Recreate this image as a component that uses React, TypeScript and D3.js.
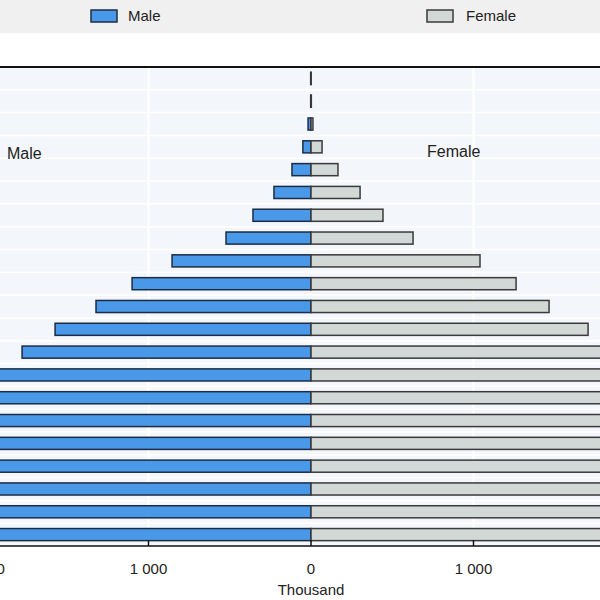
import * as d3 from 'd3';
import { useEffect, useRef } from 'react';

// age groups, oldest at the top
const ages = [
  '100+', '95-99', '90-94', '85-89', '80-84', '75-79', '70-74', '65-69',
  '60-64', '55-59', '50-54', '45-49', '40-44', '35-39', '30-34', '25-29',
  '20-24', '15-19', '10-14', '5-9', '0-4',
];

// population, thousand
const male = [
  2, 2, 18, 50, 117, 228, 357, 523, 855, 1101, 1323, 1575, 1778, 2050, 2250,
  2420, 2600, 2780, 2950, 3100, 3250,
];
const female = [
  1, 2, 12, 68, 166, 302, 443, 628, 1040, 1262, 1465, 1705, 1900, 2050, 2250,
  2420, 2600, 2780, 2950, 3100, 3250,
];

const xTicks = [-2000, -1000, 0, 1000, 2000];

const W = 600;
const H = 600;
const FONT = '"Liberation Sans Narrow", "Arial Narrow", "Liberation Sans", Arial, sans-serif';

export default function App() {
  const svgRef = useRef<SVGSVGElement>(null);

  useEffect(() => {
    document.body.style.margin = '0';
    if (!svgRef.current) return;

    const svg = d3.select(svgRef.current);
    svg.selectAll('*').remove();

    const plotTop = 67;
    const plotBottom = 546;

    const x = d3.scaleLinear().domain([-2000, 2000]).range([-14, 636]);
    const y = d3
      .scaleBand()
      .domain(ages)
      .range([plotTop, plotBottom])
      .paddingInner(0.47)
      .paddingOuter(0.235);
    const step = y.step();

    // legend band
    svg.append('rect').attr('x', 0).attr('y', 0).attr('width', W).attr('height', 33).attr('fill', '#f0f0f0');

    const legend = [
      { label: 'Male', fill: '#4a98e8', stroke: '#1c2c44', x: 91, tx: 128 },
      { label: 'Female', fill: '#d2d8d6', stroke: '#3a3a3a', x: 427, tx: 466 },
    ];
    legend.forEach((d) => {
      svg
        .append('rect')
        .attr('x', d.x)
        .attr('y', 10)
        .attr('width', 26)
        .attr('height', 12)
        .attr('fill', d.fill)
        .attr('stroke', d.stroke)
        .attr('stroke-width', 1.5);
      svg
        .append('text')
        .attr('x', d.tx)
        .attr('y', 21)
        .attr('font-family', FONT)
        .attr('font-size', 15)
        .attr('fill', '#222')
        .text(d.label);
    });

    // plot background
    svg
      .append('rect')
      .attr('x', 0)
      .attr('y', plotTop)
      .attr('width', W)
      .attr('height', plotBottom - plotTop)
      .attr('fill', '#f3f6fb');

    // horizontal white grid at band boundaries
    const g = svg.append('g');
    d3.range(1, ages.length).forEach((i) => {
      const yy = plotTop + i * step;
      g.append('line')
        .attr('x1', 0)
        .attr('x2', W)
        .attr('y1', yy)
        .attr('y2', yy)
        .attr('stroke', '#ffffff')
        .attr('stroke-width', 1.5);
    });

    // vertical white grid
    xTicks
      .filter((t) => t !== 0)
      .forEach((t) => {
        g.append('line')
          .attr('x1', x(t))
          .attr('x2', x(t))
          .attr('y1', plotTop)
          .attr('y2', plotBottom)
          .attr('stroke', '#ffffff')
          .attr('stroke-width', 2);
      });

    // bars
    g.selectAll('rect.male')
      .data(ages)
      .enter()
      .append('rect')
      .attr('class', 'male')
      .attr('x', (_, i) => x(-male[i]))
      .attr('y', (d) => y(d) || 0)
      .attr('width', (_, i) => x(0) - x(-male[i]))
      .attr('height', y.bandwidth())
      .attr('fill', '#4a98e8')
      .attr('stroke', '#1c2c44')
      .attr('stroke-width', 1.5);

    g.selectAll('rect.female')
      .data(ages)
      .enter()
      .append('rect')
      .attr('class', 'female')
      .attr('x', x(0))
      .attr('y', (d) => y(d) || 0)
      .attr('width', (_, i) => x(female[i]) - x(0))
      .attr('height', y.bandwidth())
      .attr('fill', '#d2d8d6')
      .attr('stroke', '#3a3a3a')
      .attr('stroke-width', 1.5);

    // frame top and x axis
    svg.append('line').attr('x1', 0).attr('x2', W).attr('y1', plotTop).attr('y2', plotTop)
      .attr('stroke', '#111').attr('stroke-width', 2);
    svg.append('line').attr('x1', 0).attr('x2', W).attr('y1', plotBottom).attr('y2', plotBottom)
      .attr('stroke', '#111').attr('stroke-width', 1.5);

    const fmt = (v: number) => d3.format(',')(Math.abs(v)).replace(/,/g, ' ');
    xTicks.forEach((t) => {
      svg.append('line')
        .attr('x1', x(t))
        .attr('x2', x(t))
        .attr('y1', plotBottom)
        .attr('y2', plotBottom - 6)
        .attr('stroke', '#111')
        .attr('stroke-width', 1.5);
      svg.append('text')
        .attr('x', x(t))
        .attr('y', 574)
        .attr('text-anchor', 'middle')
        .attr('font-family', FONT)
        .attr('font-size', 15)
        .attr('fill', '#222')
        .text(fmt(t));
    });

    svg.append('text')
      .attr('x', x(0))
      .attr('y', 595)
      .attr('text-anchor', 'middle')
      .attr('font-family', FONT)
      .attr('font-size', 15)
      .attr('fill', '#222')
      .text('Thousand');

    // side labels
    svg.append('text')
      .attr('x', 7)
      .attr('y', 159)
      .attr('font-family', FONT)
      .attr('font-size', 16)
      .attr('fill', '#222')
      .text('Male');
    svg.append('text')
      .attr('x', 427)
      .attr('y', 157)
      .attr('font-family', FONT)
      .attr('font-size', 16)
      .attr('fill', '#222')
      .text('Female');
  }, []);

  return (
    <svg
      ref={svgRef}
      width={W}
      height={H}
      style={{ display: 'block', background: '#ffffff', overflow: 'hidden' }}
    ></svg>
  );
}
